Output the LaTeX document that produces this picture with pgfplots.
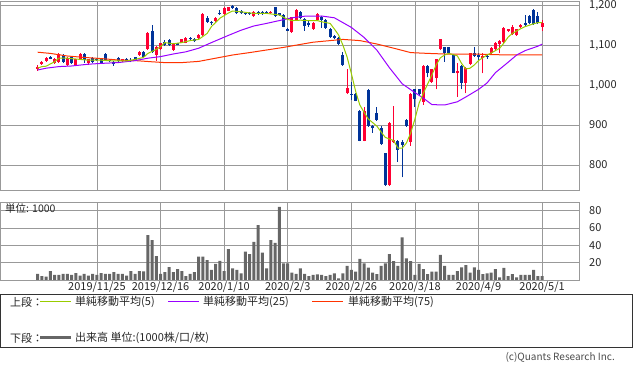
\documentclass[border=0pt]{standalone}
\usepackage{fontspec}
\setmainfont{Noto Sans CJK JP}
\usepackage{pgfplots}
\usepackage{pgfplotstable}
\pgfplotsset{compat=1.18}
\definecolor{cred}{HTML}{FF0033}
\definecolor{cblue}{HTML}{003399}
\definecolor{maA}{HTML}{99CC00}
\definecolor{maB}{HTML}{9900FF}
\definecolor{maC}{HTML}{FF3300}
\definecolor{vol}{HTML}{666666}
\definecolor{gridc}{HTML}{999999}

\pgfplotstableread{
i lo hi bot top
0 1036 1049 1041 1046
1 1050 1061 1052 1058
2 1058 1069 1060 1067.5
4 1053 1067 1056 1064
5 1056 1079 1058 1077
7 1048 1069 1050 1067
9 1048 1066 1050 1064
10 1062 1079 1064 1077.5
12 1050 1066 1054 1064
20 1058 1066 1061 1064
24 1073 1084 1075 1082.5
26 1087 1133 1089 1131
28 1061 1098 1075 1096
29 1087 1106 1089 1104
32 1085 1106 1087.5 1104
34 1104 1116 1106 1114
35 1104 1119 1106 1117
38 1114 1127 1117 1125
39 1123 1180 1125 1177.5
42 1158 1170 1161 1167
44 1175 1194 1177.5 1192
45 1184 1196 1186 1194
51 1170 1185 1172.5 1183
55 1177 1185 1179 1183
60 1131 1171 1133 1169
61 1160 1189 1162.5 1187.5
65 1138 1158 1140 1156
66 1160 1180 1162.5 1177.5
73 977 1040 979 992
77 859 946 861 936
83 748 908 750 906
84 856 947.5 858 862.5
88 848 980 858 977.5
91 950 1050 958 1047.5
93 1006 1041 1008 1039
94 989 1066 1017 1064
95 1087 1116 1089 1114
99 971 1056 1029 1036
101 979 1044 1006 1042
102 1050 1081 1052.5 1079
105 1029 1079 1067 1072.5
107 1077 1094 1079 1092
108 1087 1108 1089 1106
109 1079 1113 1102.5 1111
110 1106 1144 1108 1142
111 1133 1141 1135 1139
112 1125 1150 1127.5 1146
113 1123 1141 1125 1139
114 1142 1152 1144 1150
119 1136 1162.5 1146 1154
}\redc

\pgfplotstableread{
i lo hi bot top
3 1064 1072 1066 1069
6 1056 1077 1058 1075
8 1052 1071 1054 1069
11 1055 1079 1062.5 1077.5
13 1056 1069 1058 1067
14 1060 1068 1062.5 1066
15 1052 1068 1054 1067
16 1060 1079 1062.5 1077.5
17 1057 1064 1059 1062.5
18 1048 1060 1052 1058
19 1058 1069 1060 1067
21 1057 1068 1060 1064
22 1057 1068 1060 1063
23 1060 1071 1062.5 1069
25 1069 1086 1071 1083
27 1080 1150 1083 1136
30 1098 1113 1100 1108
31 1098 1115 1100 1112.5
33 1099 1106 1101 1104
36 1112 1119 1114 1117
37 1107 1117 1109 1114
40 1155 1173 1158 1168
41 1150 1160 1154 1158
43 1175 1188 1177.5 1181
46 1190 1199 1192 1197.5
47 1177 1194 1179 1192
48 1177 1188 1179 1186
49 1175 1183 1177.5 1181
50 1176 1183 1178 1181
52 1176 1185 1179 1182
53 1175 1185 1178 1182
54 1177 1184 1179 1182
56 1170 1196 1172.5 1194
57 1173 1181 1175 1179
58 1144 1177 1146 1175
59 1134 1142 1136 1140
62 1164 1186 1167 1183
63 1136 1167 1147.5 1164
64 1146 1160 1150 1154
67 1142 1173 1162.5 1171
68 1140 1165 1142 1162.5
69 1117 1142 1119 1140
70 1115 1125 1117 1122.5
71 1100 1119 1102.5 1117
72 1048 1083 1050 1075
74 962 1008 975 978
75 959 979 961 977
76 859 938 861 936
78 895 990 897.5 987.5
79 881 900 892 897.5
80 910 946 912.5 929
81 850 897.5 852.5 892
82 748 831 750 829
85 808 862.5 837.5 861
86 769 862 850 858
87 895 915 897.5 912.5
89 946 991 964 989
90 975 991 977.5 989
92 1019 1050 1031 1047.5
96 1058 1096 1081 1094
97 1077 1096 1079 1094
98 1029 1077 1031 1075
100 989 1050 1006 1047.5
103 1070 1096 1072.5 1079
104 1062 1079 1069 1075
106 1065 1076 1069 1072.5
115 1148 1175 1150 1156
116 1152 1175 1154 1172.5
117 1150 1189 1152.5 1187.5
118 1152 1183 1154 1172.5
}\bluec

\pgfplotstableread{
i v
0 7
1 4.6
2 3.8
3 10.4
4 5.8
5 5.8
6 7
7 7
8 5.8
9 8
10 5
11 7
12 5
13 7
14 5.8
15 8
16 7
17 7
18 9
19 7
20 7
21 5
22 10.4
23 7
24 10.4
25 10
26 52
27 46
28 27.7
29 7
30 9
31 15
32 9
33 12.7
34 10.4
35 4.6
36 7
37 9
38 27
39 27
40 23
41 11.6
42 18.5
43 22
44 10.4
45 35.8
46 13.5
47 11.6
48 7.7
49 32.8
50 30
51 44
52 63.6
53 31.6
54 13.5
55 46
56 43
57 84.7
58 19.3
59 19.3
60 8.5
61 7
62 13.5
63 7
64 4.6
65 5.8
66 6.6
67 5.8
68 4.6
69 5.8
70 7.7
71 1.9
72 7.7
73 16.2
74 11.6
75 9.6
76 24.3
77 19.3
78 14.3
79 8.5
80 6.9
81 16.2
82 19.3
83 30
84 21.9
85 16.2
86 49.3
87 25
88 21.9
89 5.8
90 18.5
91 12.7
92 6.9
93 9.6
94 9.6
95 29
96 16.2
97 5.8
98 5.8
99 10.4
100 14.6
101 17.3
102 8.5
103 14.6
104 11.6
105 6.9
106 7.7
107 8.5
108 12.7
109 3.1
110 13.9
111 4.6
112 6.9
113 3.1
114 5.8
115 5.8
116 5.8
117 11.6
118 4.6
119 4.6
}\volt

\begin{document}
\begin{tikzpicture}[x=1pt,y=1pt]
\path (0,0) rectangle (633,372);
\pgfplotsset{
  panel/.style={
    scale only axis, anchor=south west, width=579pt,
    xmin=-8.87, xmax=127.7,
    xtick={14,29,44,59,74,89,104,119},
    grid=major, major grid style={gridc, line width=0.8pt},
    axis line style={gridc, line width=0.8pt},
    major tick length=0pt,
    yticklabel pos=right,
    /pgf/number format/assume math mode=true,
    /pgf/number format/1000 sep={,},
    ticklabel style={font=\fontsize{11}{13}\selectfont, text=black!85},
    yticklabel style={anchor=west, inner sep=0pt, xshift=10pt, text height=7.5pt, text depth=0pt},
  }
}
% price panel
\begin{axis}[panel, at={(0pt,182pt)}, height=189pt,
  ymin=737.5, ymax=1210, ytick={800,900,1000,1100,1200}, xticklabels={}]
\addplot[draw=none, mark=none, forget plot, error bars/.cd, y dir=plus, y explicit, error mark=none,
  error bar style={draw=cred, line width=1pt}]
  table[x=i, y=lo, y error expr=\thisrow{hi}-\thisrow{lo}] {\redc};
\addplot[draw=none, mark=none, forget plot, error bars/.cd, y dir=plus, y explicit, error mark=none,
  error bar style={draw=cred, line width=3pt}]
  table[x=i, y=bot, y error expr=\thisrow{top}-\thisrow{bot}] {\redc};
\addplot[draw=none, mark=none, forget plot, error bars/.cd, y dir=plus, y explicit, error mark=none,
  error bar style={draw=cblue, line width=1pt}]
  table[x=i, y=lo, y error expr=\thisrow{hi}-\thisrow{lo}] {\bluec};
\addplot[draw=none, mark=none, forget plot, error bars/.cd, y dir=plus, y explicit, error mark=none,
  error bar style={draw=cblue, line width=3pt}]
  table[x=i, y=bot, y error expr=\thisrow{top}-\thisrow{bot}] {\bluec};
% 75 MA
\addplot[maC, line width=1pt, mark=none] coordinates {
(0,1082) (3,1079) (7,1072.5) (11,1069) (15,1066) (19,1062.5) (23,1061) (27,1058) (30,1056)
(34,1056) (38,1059) (42,1067) (46,1075) (50,1081) (54,1087.5) (58,1094) (62,1101.5) (65,1107)
(69,1111) (72,1114) (76,1111) (80,1102.5) (84,1092) (88,1081) (92,1079) (96,1077.5) (104,1077)
(111,1075) (119,1075)};
% 25 MA
\addplot[maB, line width=1pt, mark=none] coordinates {
(0,1037.5) (2,1042) (5,1046) (8,1047.5) (12,1052) (15,1054) (19,1056) (23,1061) (26,1067)
(29,1071) (32,1077.5) (35,1083) (38,1092) (41,1106) (45,1124) (48,1137) (51,1147.5) (54,1154)
(57,1161) (60,1168) (63,1172) (67,1172.5) (70,1168) (74,1144) (77,1119) (80,1087.5) (83,1043)
(86,1003) (89,981) (91,967) (93,951) (96,950) (99,958) (101,970) (104,989) (106,1005)
(108,1031) (111,1057) (113,1075) (115,1086) (118,1097) (119,1102)};
% 5 MA
\addplot[maA, line width=1pt, mark=none] coordinates {
(0,1042) (1,1046) (2,1047) (4,1058) (5,1067) (7,1067) (9,1065) (12,1062) (15,1062) (18,1060)
(21,1060) (23,1064) (25,1069) (26,1079) (28,1089) (29,1096) (30,1106) (32,1103) (34,1106)
(36,1111) (38,1114) (40,1129) (41,1146) (43,1167) (45,1180) (46,1185) (48,1183) (51,1179)
(54,1179) (57,1175) (59,1164) (60,1161) (62,1162) (64,1161) (66,1161) (67,1158) (69,1154)
(70,1140) (71,1125) (72,1100) (73,1070) (74,1029) (75,985) (76,950) (77,932) (78,915)
(80,897.5) (81,883) (82,869) (84,861) (85,842) (86,842) (87,855) (88,880) (89,915) (90,955)
(91,980) (93,1025) (94,1050) (95,1068) (96,1075) (97,1079) (99,1073) (100,1054) (101,1040)
(102,1042) (103,1050) (104,1061) (106,1075) (107,1080) (109,1092) (110,1105) (111,1120)
(112,1129) (114,1141) (115,1146) (117,1153) (118,1156) (119,1156)};
\end{axis}
% volume panel
\begin{axis}[panel, at={(0pt,92pt)}, height=78pt,
  ymin=0, ymax=90.2, ytick={20,40,60,80},
  xticklabels={2019/11/25,2019/12/16,2020/1/10,2020/2/3,2020/2/26,2020/3/18,2020/4/9,2020/5/1},
  xticklabel style={anchor=north, inner sep=0pt, yshift=-2pt, text height=8pt, text depth=2pt}]
\addplot[ybar, bar width=3pt, fill=vol, draw=none] table[x=i, y=v] {\volt};
\end{axis}
\node[anchor=west, inner sep=0pt, font=\fontsize{10.5}{12}\selectfont, text=black!85] at (5,163) {単位: 1000};
% legend box
\draw[black!80, line width=0.8pt] (0.5,25) rectangle (632.5,78);
\begin{scope}[every node/.style={anchor=west, inner sep=0pt, font=\fontsize{11}{13}\selectfont, text=black!85}]
\node at (10,70) {上段：};
\draw[maA, line width=1pt] (40,70) -- (71,70);
\node at (75,70) {単純移動平均(5)};
\draw[maB, line width=1pt] (168,70) -- (199,70);
\node at (203,70) {単純移動平均(25)};
\draw[maC, line width=1pt] (312,70) -- (343,70);
\node at (348,70) {単純移動平均(75)};
\node at (10,34) {下段：};
\draw[vol, line width=3pt] (40,34) -- (71,34);
\node at (75,34) {出来高 単位:(1000株/口/枚)};
\end{scope}
\node[anchor=east, inner sep=0pt, font=\fontsize{10}{12}\selectfont, text=black!70] at (615,15) {(c)Quants Research Inc.};
\pgfresetboundingbox
\path[use as bounding box] (0,0) rectangle (633,372);
\end{tikzpicture}
\end{document}
